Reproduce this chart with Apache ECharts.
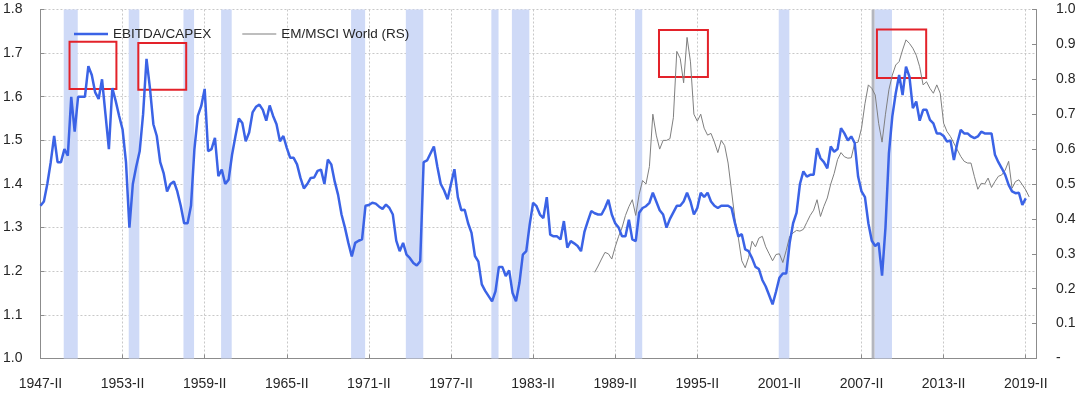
<!DOCTYPE html>
<html><head><meta charset="utf-8">
<script src="https://cdn.jsdelivr.net/npm/echarts@6/dist/echarts.min.js"></script>
<style>html,body{margin:0;padding:0;background:#fff}#c{width:1080px;height:399px}</style>
</head><body><div id="c"></div>
<script>
// ---------- data ----------
const firstYear = 1947, firstQuarter = 2;   // 1947-II
const quarterCount = 290;                    // 1947-II .. 2019-III
const romans = ['I','II','III','IV'];
const xTickLabels = ['1947-II','1953-II','1959-II','1965-II','1971-II','1977-II','1983-II','1989-II','1995-II','2001-II','2007-II','2013-II','2019-II'];

// EBITDA/CAPEX (left scale), quarterly from 1947-II
const ebitdaCapex = [
1.35,1.36,1.40,1.45,1.51,1.45,1.45,1.48,1.465,1.60,
1.52,1.60,1.60,1.60,1.67,1.65,1.61,1.595,1.64,1.56,
1.48,1.62,1.59,1.556,1.525,1.45,1.30,1.40,1.44,1.475,
1.56,1.687,1.62,1.537,1.51,1.45,1.425,1.383,1.40,1.406,
1.383,1.35,1.31,1.31,1.35,1.48,1.556,1.579,1.618,1.475,
1.48,1.506,1.418,1.433,1.40,1.41,1.467,1.51,1.55,1.54,
1.498,1.518,1.564,1.577,1.582,1.57,1.545,1.58,1.556,1.537,
1.498,1.51,1.483,1.46,1.46,1.445,1.414,1.39,1.40,1.414,
1.415,1.43,1.433,1.40,1.456,1.445,1.406,1.375,1.33,1.30,
1.265,1.234,1.265,1.27,1.273,1.35,1.352,1.357,1.355,1.348,
1.343,1.353,1.345,1.33,1.27,1.246,1.265,1.238,1.23,1.219,
1.213,1.223,1.45,1.454,1.47,1.486,1.44,1.40,1.385,1.365,
1.40,1.434,1.37,1.34,1.341,1.31,1.288,1.235,1.222,1.17,
1.155,1.143,1.131,1.154,1.21,1.21,1.189,1.202,1.15,1.131,
1.173,1.238,1.246,1.307,1.357,1.349,1.33,1.322,1.37,1.284,
1.28,1.28,1.273,1.315,1.254,1.269,1.264,1.258,1.246,1.29,
1.315,1.338,1.333,1.33,1.33,1.345,1.364,1.33,1.31,1.30,
1.28,1.28,1.318,1.273,1.269,1.334,1.345,1.349,1.357,1.38,
1.36,1.34,1.33,1.30,1.32,1.335,1.35,1.35,1.36,1.38,
1.36,1.33,1.345,1.38,1.37,1.38,1.36,1.35,1.345,1.35,
1.35,1.35,1.345,1.31,1.28,1.285,1.25,1.246,1.23,1.21,
1.205,1.18,1.165,1.145,1.124,1.153,1.185,1.195,1.195,1.265,
1.31,1.334,1.40,1.429,1.417,1.421,1.421,1.482,1.459,1.45,
1.436,1.486,1.474,1.48,1.528,1.516,1.50,1.509,1.494,1.417,
1.383,1.37,1.31,1.27,1.258,1.265,1.19,1.30,1.47,1.555,
1.608,1.65,1.604,1.669,1.646,1.574,1.589,1.545,1.57,1.57,
1.547,1.539,1.516,1.516,1.51,1.497,1.50,1.455,1.494,1.524,
1.516,1.516,1.509,1.505,1.509,1.52,1.516,1.516,1.516,1.467,
1.45,1.436,1.421,1.398,1.383,1.379,1.38,1.352,1.367
];

// EM/MSCI World (right scale), quarterly from 1987-IV
const emStartLabel = '1987-IV';
const emMsciWorld = [
0.247,0.265,0.285,0.304,0.30,0.285,0.32,0.35,0.375,0.41,
0.435,0.455,0.41,0.47,0.51,0.50,0.55,0.70,0.64,0.60,
0.625,0.625,0.63,0.69,0.88,0.86,0.79,0.92,0.85,0.70,
0.68,0.70,0.66,0.64,0.645,0.62,0.59,0.625,0.61,0.56,
0.48,0.40,0.345,0.28,0.26,0.29,0.336,0.32,0.345,0.35,
0.32,0.30,0.28,0.298,0.30,0.275,0.31,0.35,0.36,0.367,
0.365,0.37,0.39,0.41,0.425,0.455,0.407,0.436,0.46,0.50,
0.53,0.57,0.59,0.578,0.574,0.575,0.617,0.62,0.66,0.73,
0.784,0.774,0.755,0.674,0.62,0.70,0.77,0.812,0.841,0.851,
0.884,0.913,0.903,0.889,0.869,0.836,0.784,0.793,0.774,0.76,
0.784,0.76,0.674,0.65,0.636,0.617,0.598,0.579,0.565,0.56,
0.56,0.521,0.485,0.502,0.50,0.517,0.49,0.507,0.522,0.526,
0.54,0.565,0.488,0.507,0.512,0.498,0.483,0.463
];

// recession quarters (shaded)
const recessions = [
['1948-IV','1949-IV'],['1953-III','1954-II'],['1957-III','1958-II'],['1960-II','1961-I'],
['1969-IV','1970-IV'],['1973-IV','1975-I'],['1980-I','1980-III'],['1981-III','1982-IV'],
['1990-III','1991-I'],['2001-I','2001-IV'],['2008-I','2009-II']
];
const markerQuarter = '2007-IV';

// highlight boxes: quarter span and EBITDA/CAPEX value span
const highlightBoxes = [
  {x:[8.5,22.2],  y:[1.618,1.726]},
  {x:[28.6,42.6], y:[1.616,1.723]},
  {x:[180.8,195.1], y:[1.645,1.753]},
  {x:[244.5,258.9], y:[1.643,1.754]}
];

// ---------- build ----------
const quarters = [];
for (let i = 0; i < quarterCount; i++) {
  const k = (firstQuarter - 1) + i;
  quarters.push((firstYear + Math.floor(k / 4)) + '-' + romans[k % 4]);
}
const qi = l => quarters.indexOf(l);
const blueData = ebitdaCapex.map((v, i) => [i, v]);
const emStart = qi(emStartLabel);
const grayData = emMsciWorld.map((v, i) => [emStart + i, v]);

const FONT = "'Liberation Sans', Arial, sans-serif";
const TXT = '#262626';
const AX = '#8c8c8c';
const BLUE = '#3b63e6';
const GRAY = '#7f7f7f';

const option = {
  animation: false,
  backgroundColor: '#fff',
  grid: {left: 40, right: 44, top: 9.5, bottom: 40.5},
  legend: {
    left: 69, top: 22, itemWidth: 34, itemHeight: 14, itemGap: 31,
    symbolKeepAspect: true,
    textStyle: {fontFamily: FONT, fontSize: 13.5, color: TXT},
    data: [
      {name: 'EBITDA/CAPEX', icon: 'path://M0,0H34V2.5H0Z', itemStyle: {color: BLUE}},
      {name: 'EM/MSCI World (RS)', icon: 'path://M0,0H34V1H0Z', itemStyle: {color: GRAY}}
    ]
  },
  xAxis: {
    type: 'value', min: 0, max: quarterCount + 1, interval: 24,
    axisLine: {lineStyle: {color: AX}},
    axisTick: {inside: true, length: 4, lineStyle: {color: AX}},
    axisLabel: {
      margin: 19, fontFamily: FONT, fontSize: 14, color: TXT,
      formatter: v => (xTickLabels.indexOf(quarters[v]) >= 0 ? quarters[v] : '')
    },
    splitLine: {show: true, lineStyle: {color: '#c8c8c8', type: [2, 2]}}
  },
  yAxis: [
    {
      type: 'value', min: 1.0, max: 1.8, interval: 0.1, position: 'left',
      axisLine: {show: true, lineStyle: {color: AX}},
      axisTick: {show: true, inside: true, length: 4, lineStyle: {color: AX}},
      axisLabel: {margin: 18, fontFamily: FONT, fontSize: 14, color: TXT, formatter: v => v.toFixed(1)},
      splitLine: {show: true, lineStyle: {color: '#c8c8c8', type: [2, 2]}}
    },
    {
      type: 'value', min: 0, max: 1.0, interval: 0.1, position: 'right',
      axisLine: {show: true, lineStyle: {color: AX}},
      axisTick: {show: true, inside: true, length: 4, lineStyle: {color: AX}},
      axisLabel: {margin: 20, fontFamily: FONT, fontSize: 14, color: TXT, align: 'left',
        formatter: v => (Math.abs(v) < 1e-9 ? '-' : v.toFixed(1))},
      splitLine: {show: false}
    }
  ],
  series: [
    {
      name: 'bands', type: 'line', data: [], z: 1, silent: true,
      markArea: {
        silent: true,
        itemStyle: {color: '#cfdaf7'},
        data: recessions.map(r => [{xAxis: qi(r[0]) + 0.8}, {xAxis: qi(r[1]) + 0.9}])
          .concat([[{xAxis: qi(markerQuarter) + 0.95, itemStyle: {color: '#b4b6be'}}, {xAxis: qi(markerQuarter) + 1.8}]])
      }
    },
    {
      name: 'EM/MSCI World (RS)', type: 'line', yAxisIndex: 1, data: grayData,
      symbol: 'none', showSymbol: false, z: 3,
      lineStyle: {color: GRAY, width: 1}, itemStyle: {color: GRAY}
    },
    {
      name: 'EBITDA/CAPEX', type: 'line', yAxisIndex: 0, data: blueData,
      symbol: 'none', showSymbol: false, z: 4,
      lineStyle: {color: BLUE, width: 2.5}, itemStyle: {color: BLUE}
    },
    {
      name: 'boxes', type: 'line', data: [], z: 10, silent: true,
      markArea: {
        silent: true,
        itemStyle: {color: 'rgba(0,0,0,0)', borderColor: '#e3222a', borderWidth: 2},
        data: highlightBoxes.map(b => [{xAxis: b.x[0], yAxis: b.y[1]}, {xAxis: b.x[1], yAxis: b.y[0]}])
      }
    }
  ]
};
const chart = echarts.init(document.getElementById('c'), null, {renderer: 'canvas'});
chart.setOption(option);
</script>
</body></html>
